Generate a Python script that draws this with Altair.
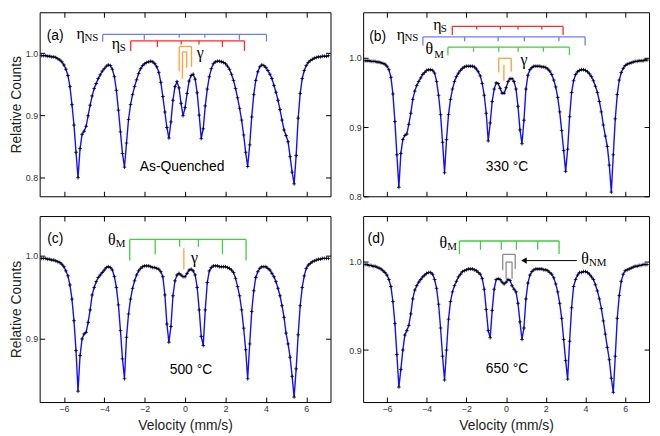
import altair as alt
import pandas as pd

# ---------------- data ----------------
VELOCITY = [
    -7.1, -7.0, -6.9, -6.8, -6.7, -6.6, -6.5, -6.4, -6.3, -6.2,
    -6.1, -6.0, -5.9, -5.8, -5.7, -5.6, -5.5, -5.4, -5.3, -5.2,
    -5.1, -5.0, -4.9, -4.8, -4.7, -4.6, -4.5, -4.4, -4.3, -4.2,
    -4.1, -4.0, -3.9, -3.8, -3.7, -3.6, -3.5, -3.4, -3.3, -3.2,
    -3.1, -3.0, -2.9, -2.8, -2.7, -2.6, -2.5, -2.4, -2.3, -2.2,
    -2.1, -2.0, -1.9, -1.8, -1.7, -1.6, -1.5, -1.4, -1.3, -1.2,
    -1.1, -1.0, -0.9, -0.8, -0.7, -0.6, -0.5, -0.4, -0.3, -0.2,
    -0.1, 0.0, 0.1, 0.2, 0.3, 0.4, 0.5, 0.6, 0.7, 0.8,
    0.9, 1.0, 1.1, 1.2, 1.3, 1.4, 1.5, 1.6, 1.7, 1.8,
    1.9, 2.0, 2.1, 2.2, 2.3, 2.4, 2.5, 2.6, 2.7, 2.8,
    2.9, 3.0, 3.1, 3.2, 3.3, 3.4, 3.5, 3.6, 3.7, 3.8,
    3.9, 4.0, 4.1, 4.2, 4.3, 4.4, 4.5, 4.6, 4.7, 4.8,
    4.9, 5.0, 5.1, 5.2, 5.3, 5.4, 5.5, 5.6, 5.7, 5.8,
    5.9, 6.0, 6.1, 6.2, 6.3, 6.4, 6.5, 6.6, 6.7, 6.8,
    6.9, 7.0, 7.1,
]

COUNTS_A = [
    0.996, 0.996, 0.996, 0.995, 0.995, 0.994, 0.994, 0.993, 0.991, 0.989,
    0.986, 0.981, 0.974, 0.964, 0.946, 0.917, 0.884, 0.840, 0.799, 0.846,
    0.869, 0.874, 0.882, 0.899, 0.916, 0.931, 0.943, 0.951, 0.959, 0.965,
    0.971, 0.975, 0.979, 0.981, 0.980, 0.974, 0.962, 0.940, 0.908, 0.873,
    0.838, 0.816, 0.855, 0.893, 0.917, 0.933, 0.946, 0.957, 0.967, 0.975,
    0.980, 0.983, 0.985, 0.986, 0.987, 0.986, 0.983, 0.978, 0.969, 0.953,
    0.930, 0.905, 0.880, 0.863, 0.889, 0.924, 0.946, 0.954, 0.944, 0.919,
    0.899, 0.912, 0.935, 0.955, 0.964, 0.966, 0.958, 0.936, 0.900, 0.862,
    0.878, 0.915, 0.942, 0.962, 0.975, 0.983, 0.986, 0.987, 0.987, 0.986,
    0.985, 0.983, 0.979, 0.974, 0.966, 0.956, 0.943, 0.928, 0.911, 0.892,
    0.868, 0.840, 0.817, 0.852, 0.897, 0.933, 0.956, 0.970, 0.978, 0.981,
    0.980, 0.977, 0.972, 0.966, 0.959, 0.948, 0.937, 0.924, 0.909, 0.892,
    0.876, 0.867, 0.857, 0.833, 0.808, 0.789, 0.835, 0.895, 0.935, 0.959,
    0.972, 0.980, 0.985, 0.988, 0.990, 0.992, 0.993, 0.994, 0.994, 0.995,
    0.995, 0.995, 0.996,
]

COUNTS_B = [
    0.996, 0.996, 0.996, 0.995, 0.995, 0.995, 0.994, 0.994, 0.993, 0.992,
    0.991, 0.988, 0.983, 0.972, 0.948, 0.908, 0.860, 0.813, 0.862, 0.882,
    0.888, 0.890, 0.904, 0.920, 0.940, 0.952, 0.960, 0.966, 0.971, 0.976,
    0.979, 0.982, 0.983, 0.983, 0.982, 0.978, 0.966, 0.946, 0.918, 0.878,
    0.834, 0.882, 0.918, 0.940, 0.955, 0.966, 0.973, 0.978, 0.982, 0.985,
    0.987, 0.988, 0.988, 0.988, 0.988, 0.987, 0.984, 0.980, 0.974, 0.963,
    0.946, 0.920, 0.880, 0.906, 0.937, 0.955, 0.964, 0.963, 0.956, 0.949,
    0.949, 0.957, 0.966, 0.970, 0.970, 0.966, 0.955, 0.930, 0.896, 0.876,
    0.910, 0.955, 0.975, 0.983, 0.986, 0.988, 0.988, 0.988, 0.988, 0.987,
    0.987, 0.986, 0.984, 0.981, 0.976, 0.968, 0.958, 0.943, 0.922, 0.895,
    0.866, 0.836, 0.868, 0.915, 0.950, 0.967, 0.976, 0.980, 0.982, 0.983,
    0.983, 0.982, 0.980, 0.977, 0.973, 0.967, 0.959, 0.950, 0.937, 0.922,
    0.903, 0.887, 0.872, 0.845, 0.806, 0.860, 0.912, 0.947, 0.968, 0.979,
    0.985, 0.989, 0.991, 0.992, 0.993, 0.994, 0.995, 0.995, 0.996, 0.996,
    0.996, 0.997, 0.997,
]

COUNTS_C = [
    0.997, 0.997, 0.997, 0.996, 0.996, 0.995, 0.995, 0.994, 0.993, 0.992,
    0.990, 0.987, 0.982, 0.976, 0.965, 0.948, 0.922, 0.886, 0.837, 0.880,
    0.900, 0.906, 0.908, 0.920, 0.935, 0.953, 0.962, 0.969, 0.974, 0.977,
    0.980, 0.983, 0.986, 0.987, 0.986, 0.983, 0.975, 0.962, 0.941, 0.910,
    0.876, 0.852, 0.902, 0.930, 0.948, 0.961, 0.970, 0.977, 0.982, 0.985,
    0.987, 0.988, 0.988, 0.988, 0.987, 0.986, 0.986, 0.985, 0.984, 0.981,
    0.975, 0.953, 0.918, 0.896, 0.915, 0.952, 0.970, 0.977, 0.979, 0.977,
    0.975, 0.975, 0.979, 0.983, 0.984, 0.982, 0.977, 0.962, 0.935, 0.903,
    0.892, 0.935, 0.968, 0.982, 0.986, 0.988, 0.988, 0.988, 0.987, 0.987,
    0.987, 0.987, 0.986, 0.985, 0.983, 0.980, 0.973, 0.963, 0.952, 0.935,
    0.913, 0.887, 0.852, 0.894, 0.933, 0.958, 0.974, 0.981, 0.985, 0.987,
    0.987, 0.987, 0.985, 0.983, 0.979, 0.975, 0.969, 0.961, 0.952, 0.940,
    0.926, 0.907, 0.894, 0.878, 0.855, 0.830, 0.864, 0.905, 0.940, 0.962,
    0.976, 0.985, 0.989, 0.991, 0.993, 0.994, 0.995, 0.996, 0.996, 0.997,
    0.997, 0.997, 0.997,
]

COUNTS_D = [
    0.997, 0.997, 0.996, 0.996, 0.995, 0.995, 0.994, 0.993, 0.992, 0.990,
    0.988, 0.985, 0.980, 0.972, 0.955, 0.930, 0.895, 0.858, 0.878, 0.900,
    0.917, 0.922, 0.928, 0.941, 0.958, 0.968, 0.973, 0.977, 0.980, 0.983,
    0.985, 0.987, 0.988, 0.988, 0.986, 0.980, 0.970, 0.952, 0.925, 0.893,
    0.866, 0.900, 0.935, 0.955, 0.966, 0.973, 0.978, 0.983, 0.986, 0.989,
    0.990, 0.991, 0.992, 0.992, 0.992, 0.991, 0.990, 0.988, 0.986, 0.981,
    0.969, 0.946, 0.922, 0.914, 0.945, 0.969, 0.980, 0.981, 0.980, 0.977,
    0.975, 0.977, 0.980, 0.979, 0.973, 0.969, 0.966, 0.953, 0.932, 0.912,
    0.925, 0.958, 0.976, 0.985, 0.989, 0.991, 0.992, 0.992, 0.992, 0.992,
    0.991, 0.991, 0.990, 0.988, 0.986, 0.982, 0.975, 0.966, 0.953, 0.936,
    0.912, 0.888, 0.867, 0.910, 0.948, 0.972, 0.980, 0.985, 0.988, 0.988,
    0.989, 0.989, 0.988, 0.986, 0.983, 0.980, 0.974, 0.967, 0.958, 0.947,
    0.933, 0.918, 0.903, 0.889, 0.868, 0.852, 0.893, 0.936, 0.962, 0.978,
    0.986, 0.990, 0.991, 0.992, 0.993, 0.994, 0.995, 0.995, 0.996, 0.996,
    0.997, 0.997, 0.997,
]

X_TICKS = [-6, -4, -2, 0, 2, 4, 6]
Y_TICKS_AB = [0.8, 0.9, 1.0]
Y_TICKS_CD = [0.9, 1.0]

# stick diagrams: (line positions, bar level, leg bottoms)
A_ETA_NS = ([-4.08, -2.02, -0.29, 0.98, 2.69, 4.03], 1.0303, [1.019, 1.0216, 1.025, 1.025, 1.0216, 1.019])
A_ETA_S = ([-2.69, -1.37, -0.19, 0.69, 1.85, 2.94], 1.020, [1.0036, 1.010, 1.014, 1.014, 1.010, 1.0036])
A_GAMMA_OUT = ([-0.29, 0.32], 1.0108, [0.971, 0.978])
A_GAMMA_IN = ([-0.13, 0.08], 1.0021, [0.9585, 0.9765])

B_ETA_S = ([-2.71, -1.48, -0.29, 0.60, 1.80, 2.87], 1.0455, [1.033, 1.041, 1.041, 1.041, 1.041, 1.033])
B_ETA_NS = ([-4.19, -2.09, -0.40, 0.92, 2.66, 3.98], 1.0303, [1.018, 1.024, 1.024, 1.024, 1.024, 1.018])
B_THETA_M = ([-2.93, -1.64, -0.37, 0.61, 1.88, 3.19], 1.0156, [1.004, 1.009, 1.009, 1.009, 1.009, 1.004])
B_GAMMA_D = ([-0.37, 0.26], 0.9995, [0.979, 0.980])
B_GAMMA_S = ([-0.11], 0.990, [0.967])

C_THETA_M = ([-2.74, -1.48, -0.27, 0.66, 1.85, 3.02], 1.0198, [0.9945, 1.002, 1.011, 1.011, 1.002, 0.9945])
C_GAMMA = ([-0.06], 1.0093, [0.984])

D_THETA_M = ([-2.35, -1.29, -0.24, 0.52, 1.59, 2.67], 1.0237, [1.009, 1.0137, 1.0137, 1.0137, 1.0137, 1.009])
D_THETA_NM_OUT = ([-0.17, 0.46], 1.0085, [0.9905, 0.992])
D_THETA_NM_IN = ([0.0, 0.30], 0.9998, [0.980, 0.981])
D_ARROW = ([0.9, 3.56], 1.0015)

# ---------------- style ----------------
SANS = "Liberation Sans"
SERIF = "Liberation Serif"
LINE_BLUE = "#1010ff"
C_NS = "#6a7dff"
C_S = "#ff2a2a"
C_M = "#3fcf3f"
C_G = "#ffa033"
C_NM = "#8a8a8a"

W_L, W_R = 294, 289
H_T, H_B = 186, 188


def segs(stick):
    pos, bar, bottoms = stick
    rows = [{"x": min(pos), "x2": max(pos), "y": bar, "y2": bar}]
    for p, b in zip(pos, bottoms):
        rows.append({"x": p, "x2": p, "y": bar, "y2": b})
    return pd.DataFrame(rows)


def panel(counts, ydom, yticks, W, H, xlabels, ytitle, sticks, greek, subs, sans, arrow=None):
    df = pd.DataFrame({"v": VELOCITY, "c": counts})
    xs = alt.Scale(domain=[-7.2, 7.2], nice=False, zero=False)
    ys = alt.Scale(domain=ydom, nice=False, zero=False)
    base = alt.Chart(df)

    xa = dict(orient="bottom", values=X_TICKS, ticks=False, domain=False, grid=False,
              labels=xlabels, labelFont=SANS, labelFontSize=9, labelColor="#333",
              labelPadding=3, titleFont=SANS, titleFontSize=14, titleFontWeight="normal",
              titleColor="#222", titlePadding=5)
    xa["title"] = "Velocity (mm/s)" if xlabels else None
    ya = dict(orient="left", values=yticks, format=".1f", ticks=False, domain=False, grid=False,
              labelFont=SANS, labelFontSize=9, labelColor="#333", labelPadding=2,
              titleFont=SANS, titleFontSize=14, titleFontWeight="normal", titleColor="#222",
              titlePadding=2)
    ya["title"] = "Relative Counts" if ytitle else None

    tick_common = dict(labels=False, domain=False, grid=False, ticks=True, tickSize=5,
                       tickColor="black", tickWidth=1, title=None)

    line = base.mark_line(color=LINE_BLUE, strokeWidth=1.4).encode(
        x=alt.X("v:Q", scale=xs, axis=alt.Axis(**xa)),
        y=alt.Y("c:Q", scale=ys, axis=alt.Axis(**ya)),
    )
    pts = base.mark_point(shape="M-1,0H1M0,-1V1", filled=False, stroke="black",
                          strokeWidth=0.8, size=14, opacity=1).encode(
        x=alt.X("v:Q", scale=xs, axis=alt.Axis(orient="top", offset=-H, values=X_TICKS, **tick_common)),
        y=alt.Y("c:Q", scale=ys, axis=alt.Axis(orient="right", offset=-W, values=yticks, **tick_common)),
    )
    ghost = base.mark_point(opacity=0, size=1).encode(
        x=alt.X("v:Q", scale=xs, axis=alt.Axis(orient="bottom", offset=-H, values=X_TICKS, **tick_common)),
        y=alt.Y("c:Q", scale=ys, axis=alt.Axis(orient="left", offset=-W, values=yticks, **tick_common)),
    )
    layers = [line, pts, ghost]

    for stick, color in sticks:
        layers.append(alt.Chart(segs(stick)).mark_rule(color=color, strokeWidth=1.3).encode(
            x=alt.X("x:Q", scale=xs, axis=None), x2="x2:Q",
            y=alt.Y("y:Q", scale=ys, axis=None), y2="y2:Q"))

    if arrow is not None:
        (ax1, ax2), ay = arrow
        adf = pd.DataFrame({"x": [ax1], "x2": [ax2], "y": [ay]})
        layers.append(alt.Chart(adf).mark_rule(color="black", strokeWidth=1).encode(
            x=alt.X("x:Q", scale=xs, axis=None), x2="x2:Q",
            y=alt.Y("y:Q", scale=ys, axis=None)))
        layers.append(alt.Chart(adf).mark_point(shape="triangle-left", filled=True, color="black",
                                                size=40, opacity=1).encode(
            x=alt.X("x:Q", scale=xs, axis=None),
            y=alt.Y("y:Q", scale=ys, axis=None)))

    def tlayer(items, font, size, align, baseline):
        tdf = pd.DataFrame(items, columns=["x", "y", "t"])
        return alt.Chart(tdf).mark_text(font=font, fontSize=size, align=align,
                                        baseline=baseline, color="black").encode(
            x=alt.X("x:Q", scale=xs, axis=None),
            y=alt.Y("y:Q", scale=ys, axis=None),
            text="t:N")

    layers.append(tlayer(greek, SERIF, 16, "left", "alphabetic"))
    layers.append(tlayer(subs, SERIF, 11, "left", "alphabetic"))
    layers.append(tlayer(sans, SANS, 14, "center", "middle"))

    return alt.layer(*layers).resolve_axis(x="independent", y="independent").properties(width=W, height=H)


pa = panel(
    COUNTS_A, [0.769, 1.066], Y_TICKS_AB, W_L, H_T, False, True,
    [(A_ETA_NS, C_NS), (A_ETA_S, C_S), (A_GAMMA_OUT, C_G), (A_GAMMA_IN, C_G)],
    [(-5.37, 1.0223, "η"), (-3.63, 1.0062, "η"), (0.58, 0.9923, "γ")],
    [(-4.98, 1.020, "NS"), (-3.24, 1.0038, "S")],
    [(-6.43, 1.0277, "(a)"), (-0.15, 0.8154, "As-Quenched")],
)
pb = panel(
    COUNTS_B, [0.80, 1.066], Y_TICKS_AB, W_R, H_T, False, False,
    [(B_ETA_S, C_S), (B_ETA_NS, C_NS), (B_THETA_M, C_M), (B_GAMMA_D, C_G), (B_GAMMA_S, C_G)],
    [(-5.51, 1.0258, "η"), (-3.67, 1.040, "η"), (-4.06, 1.0064, "θ"), (0.72, 0.9903, "γ")],
    [(-5.12, 1.0239, "NS"), (-3.29, 1.0377, "S"), (-3.62, 1.0004, "M")],
    [(-6.47, 1.0303, "(b)"), (0.05, 0.842, "330 °C")],
)
pc = panel(
    COUNTS_C, [0.824, 1.048], Y_TICKS_CD, W_L, H_B, True, True,
    [(C_THETA_M, C_M), (C_GAMMA, C_G)],
    [(-3.82, 1.0129, "θ"), (0.29, 0.9918, "γ")],
    [(-3.43, 1.0113, "M")],
    [(-6.43, 1.0199, "(c)"), (0.29, 0.862, "500 °C")],
)
pd_ = panel(
    COUNTS_D, [0.841, 1.052], Y_TICKS_CD, W_R, H_B, True, False,
    [(D_THETA_M, C_M), (D_THETA_NM_OUT, C_NM), (D_THETA_NM_IN, C_NM)],
    [(-3.35, 1.0156, "θ"), (3.79, 0.9978, "θ")],
    [(-2.96, 1.0137, "M"), (4.17, 0.9952, "NM")],
    [(-6.55, 1.0256, "(d)"), (0.05, 0.8783, "650 °C")],
    arrow=D_ARROW,
)

top = alt.hconcat(pa, pb, spacing=15)
bottom = alt.hconcat(pc, pd_, spacing=15)
chart = alt.vconcat(top, bottom, spacing=13,
                    padding={"left": 0, "top": 1, "right": 1, "bottom": 0}
                    ).configure_view(stroke="black", strokeWidth=1)

chart.save("out.html", embed_options={"renderer": "svg", "actions": False})
